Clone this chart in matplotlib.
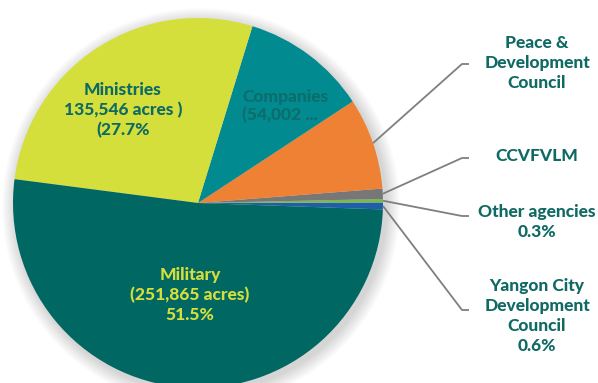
import numpy as np
import matplotlib.pyplot as plt
from matplotlib.patches import Circle

# Share of land held, in percent (ccw from the right edge)
categories = ["Yangon City Development Council", "Other agencies", "CCVFVLM",
              "Peace & Development Council", "Companies", "Ministries", "Military"]
shares = [0.6, 0.3, 0.9, 8.0, 11.0, 27.7, 51.5]
colors = ["#1f5ea8", "#7cb84a", "#777777", "#ee8133", "#018a8f", "#d5df3c", "#006762"]

military_acres = "251,865"
ministries_acres = "135,546"
companies_acres = "54,002"

TEXT = "#0f6a64"
W, H = 598, 383

fig = plt.figure(figsize=(W / 100, H / 100), dpi=100)
ax = fig.add_axes([0, 0, 1, 1])

cx, cy, r = 198, H - 203, 185

# soft drop shadow behind the pie
for i in range(14):
    ax.add_patch(Circle((cx + 3, cy - 4), r + 14 - i, color="#000000",
                        alpha=0.012, lw=0, zorder=0))

wedges, _ = ax.pie(shares, colors=colors, startangle=-2.0, radius=r,
                   center=(cx, cy), frame=True,
                   wedgeprops=dict(linewidth=0))
for w in wedges:
    w.set_zorder(2)

ax.set_xlim(0, W)
ax.set_ylim(0, H)
ax.set_aspect("equal")
ax.axis("off")

font = dict(family="Lato", fontweight="black", fontsize=12.5)


def edge_point(wedge):
    mid = np.deg2rad((wedge.theta1 + wedge.theta2) / 2)
    return cx + r * np.cos(mid), cy + r * np.sin(mid)


# leader lines for the thin slices
leaders = {
    "Peace & Development Council": 64,
    "CCVFVLM": 158,
    "Other agencies": 216,
    "Yangon City Development Council": 310,
}
for name, yb in leaders.items():
    x0, y0 = edge_point(wedges[categories.index(name)])
    ax.plot([x0, 462, 469], [y0, H - yb, H - yb], color="#7f7f7f",
            lw=1.3, zorder=3, solid_capstyle="butt")

ax.text(537, H - 63, "Peace &\nDevelopment\nCouncil", color=TEXT,
        ha="center", va="center", linespacing=1.3, **font)
ax.text(537, H - 156, "CCVFVLM", color=TEXT, ha="center", va="center", **font)
ax.text(537, H - 222, f"Other agencies\n{shares[1]}%", color=TEXT,
        ha="center", va="center", linespacing=1.3, **font)
ax.text(537, H - 316, f"Yangon City\nDevelopment\nCouncil\n{shares[0]}%",
        color=TEXT, ha="center", va="center", linespacing=1.3, **font)

# labels inside the large slices
ax.text(123, H - 110, f"Ministries\n{ministries_acres} acres )\n({shares[5]}%",
        color=TEXT, ha="center", va="center", linespacing=1.3, zorder=4, **font)
ax.text(242, H - 106, f"Companies\n({companies_acres} ...", color="#0c6e6c",
        ha="left", va="center", linespacing=1.15, zorder=4, **font)
ax.text(190, H - 295, f"Military\n({military_acres} acres)\n{shares[6]}%",
        color="#d5df3c", ha="center", va="center", linespacing=1.3, zorder=4,
        **font)

fig.savefig("out.png", dpi=100)
